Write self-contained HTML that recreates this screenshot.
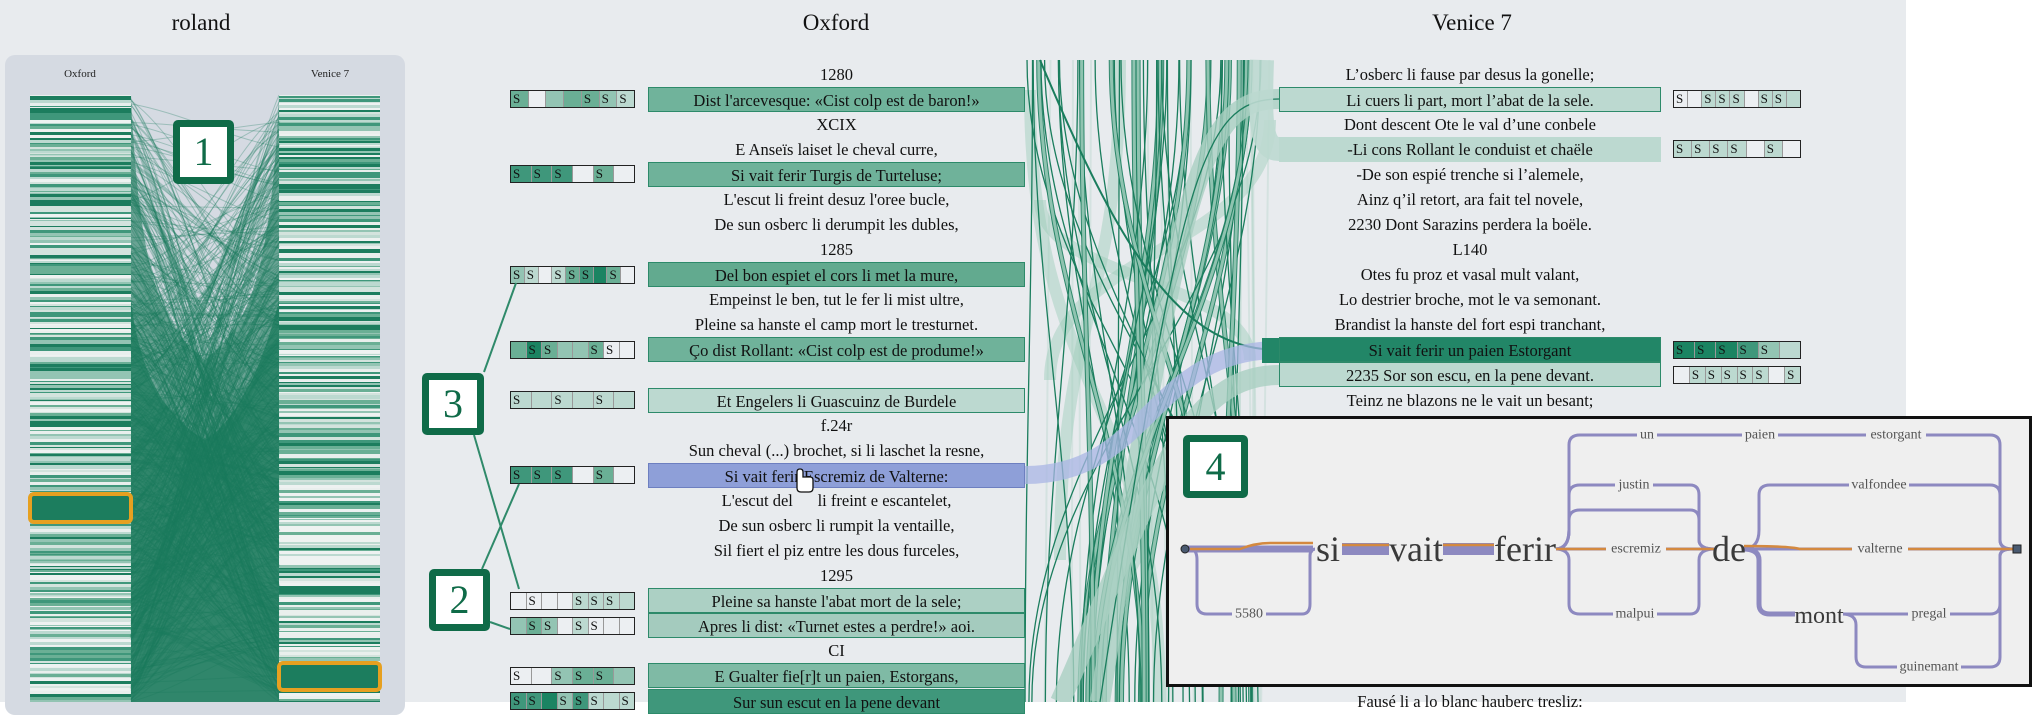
<!DOCTYPE html>
<html><head><meta charset="utf-8">
<style>
body{margin:0;width:2034px;height:702px;overflow:hidden;background:#fff;font-family:"Liberation Serif",serif;position:relative}
#bg{position:absolute;left:0;top:0;width:1906px;height:702px;background:#e8ebee}
.t{position:absolute;font-size:23px;color:#111;transform:translateX(-50%);top:10px}
#panel{position:absolute;left:5px;top:55px;width:400px;height:660px;background:#d5dae2;border-radius:10px}
.pl{position:absolute;font-size:11px;top:68px;transform:translateX(-50%);color:#222}
.r{position:absolute;height:25px;line-height:25px;font-size:16.5px;text-align:center;top:calc(61.5px + var(--i) * 25.08px);color:#111;white-space:nowrap}
.ox{left:648px;width:377px}
.ve{left:1279px;width:382px}
.h{box-sizing:border-box;border:1px solid #2d8a6a}
.sb{position:absolute;height:18px;box-sizing:border-box;border:1.5px solid #222;display:flex;top:calc(65px + var(--i) * 25.08px)}
.sb span{flex:1;border-right:1px solid #999;font-size:13px;line-height:15px;padding-left:2px;color:#111}
.sb span:last-child{border-right:none}
.so{left:510px;width:125px}.sv{left:1673px;width:128px}
.badge{position:absolute;box-sizing:border-box;border:7px solid #0f6b48;border-radius:5px;background:#fff;color:#0f6b48;font-size:40px;text-align:center;font-family:"Liberation Serif",serif}
svg{position:absolute;left:0;top:0}
.g text{font-family:"Liberation Serif",serif;fill:#555;text-anchor:middle;dominant-baseline:central}
.g text.big{fill:#3a3a3a}
</style></head><body>
<div id="bg"></div>
<div class="t" style="left:201px">roland</div>
<div class="t" style="left:836px">Oxford</div>
<div class="t" style="left:1472px">Venice 7</div>
<div id="panel"></div>
<div class="pl" style="left:80px">Oxford</div>
<div class="pl" style="left:330px">Venice 7</div>
<svg id="left" width="410" height="702"></svg>
<svg id="mid" width="2034" height="702"></svg>

<div class="r ox" style="--i:0">1280</div>
<div class="r ox h" style="--i:1;background:#70b39b">Dist l'arcevesque: «Cist colp est de baron!»</div>
<div class="r ox" style="--i:2">XCIX</div>
<div class="r ox" style="--i:3">E Anseïs laiset le cheval curre,</div>
<div class="r ox h" style="--i:4;background:#6fb29a">Si vait ferir Turgis de Turteluse;</div>
<div class="r ox" style="--i:5">L'escut li freint desuz l'oree bucle,</div>
<div class="r ox" style="--i:6">De sun osberc li derumpit les dubles,</div>
<div class="r ox" style="--i:7">1285</div>
<div class="r ox h" style="--i:8;background:#62aa8f">Del bon espiet el cors li met la mure,</div>
<div class="r ox" style="--i:9">Empeinst le ben, tut le fer li mist ultre,</div>
<div class="r ox" style="--i:10">Pleine sa hanste el camp mort le tresturnet.</div>
<div class="r ox h" style="--i:11;background:#6fb29a">Ço dist Rollant: «Cist colp est de produme!»</div>
<div class="r ox h" style="--i:13;background:#bcd9d0">Et Engelers li Guascuinz de Burdele</div>
<div class="r ox" style="--i:14">f.24r</div>
<div class="r ox" style="--i:15">Sun cheval (...) brochet, si li laschet la resne,</div>
<div class="r ox h" style="--i:16;background:#8e9fd8;border-color:#6d7fc0">Si vait ferir Escremiz de Valterne:</div>
<div class="r ox" style="--i:17">L'escut del &nbsp;&nbsp;&nbsp;&nbsp; li freint e escantelet,</div>
<div class="r ox" style="--i:18">De sun osberc li rumpit la ventaille,</div>
<div class="r ox" style="--i:19">Sil fiert el piz entre les dous furceles,</div>
<div class="r ox" style="--i:20">1295</div>
<div class="r ox h" style="--i:21;background:#acd0c4">Pleine sa hanste l'abat mort de la sele;</div>
<div class="r ox h" style="--i:22;background:#a4cbbe">Apres li dist: «Turnet estes a perdre!» aoi.</div>
<div class="r ox" style="--i:23">CI</div>
<div class="r ox h" style="--i:24;background:#7fbaa5">E Gualter fie[r]t un paien, Estorgans,</div>
<div class="r ox h" style="--i:25;background:#3f977b">Sur sun escut en la pene devant</div>
<svg width="2034" height="702"><path d="M797,472 v16 q0,4 4,4 h8 q4,0 4,-4 v-8 q0,-3 -3,-3 h-7 v-5 q0,-3 -3,-3 q-3,0 -3,3z" fill="#fff" stroke="#111" stroke-width="1.3"/></svg>

<div class="r ve" style="--i:0">L’osberc li fause par desus la gonelle;</div>
<div class="r ve h" style="--i:1;background:#bcd9d0">Li cuers li part, mort l’abat de la sele.</div>
<div class="r ve" style="--i:2">Dont descent Ote le val d’une conbele</div>
<div class="r ve" style="--i:3;background:#bcd9d0">-Li cons Rollant le conduist et chaële</div>
<div class="r ve" style="--i:4">-De son espié trenche si l’alemele,</div>
<div class="r ve" style="--i:5">Ainz q’il retort, ara fait tel novele,</div>
<div class="r ve" style="--i:6">2230 Dont Sarazins perdera la boële.</div>
<div class="r ve" style="--i:7">L140</div>
<div class="r ve" style="--i:8">Otes fu proz et vasal mult valant,</div>
<div class="r ve" style="--i:9">Lo destrier broche, mot le va semonant.</div>
<div class="r ve" style="--i:10">Brandist la hanste del fort espi tranchant,</div>
<div class="r ve h" style="--i:11;background:#228667">Si vait ferir un paien Estorgant</div>
<div class="r ve h" style="--i:12;background:#bcd9d0">2235 Sor son escu, en la pene devant.</div>
<div class="r ve" style="--i:13">Teinz ne blazons ne le vait un besant;</div>
<div class="r ve" style="--i:25">Fausé li a lo blanc hauberc tresliz:</div>

<div id="sboxes"></div>

<div class="badge" style="left:173px;top:120px;width:61px;height:64px;line-height:50px">1</div>
<div class="badge" style="left:422px;top:373px;width:62px;height:62px;line-height:48px">3</div>
<div class="badge" style="left:429px;top:569px;width:61px;height:62px;line-height:48px">2</div>

<div style="position:absolute;left:1166px;top:416px;width:866px;height:271px;box-sizing:border-box;border:3px solid #111;background:#efefef"></div>
<div class="badge" style="left:1183px;top:435px;width:65px;height:63px;line-height:49px">4</div>
<svg width="2034" height="702" class="g">
<g fill="none" stroke="#8d89c0" stroke-width="3" stroke-linejoin="round">
<path d="M1185,549 H1313" stroke-width="7"/>
<path d="M1190,549 Q1197,549 1197,560 V604 Q1197,614 1207,614 H1302 Q1310,614 1310,604 V556 Q1310,549 1316,549"/>
<path d="M1340,549 H1391 M1441,549 H1494" stroke-width="12"/>
<path d="M1555,549 Q1569,549 1569,530 V445 Q1569,435 1580,435 H1990 Q2000,435 2000,445 V540 Q2000,549 2013,549"/>
<path d="M1555,549 Q1569,549 1569,530 V495 Q1569,485 1580,485 H1690 Q1699,485 1699,495 V540 Q1699,549 1715,549"/>
<path d="M1555,549 Q1569,549 1569,530 V520 Q1569,510 1580,510 H1690 Q1699,510 1699,520 V540 Q1699,549 1715,549"/>
<path d="M1555,549 H1715"/>
<path d="M1555,549 Q1569,549 1569,560 V604 Q1569,614 1580,614 H1690 Q1699,614 1699,604 V560 Q1699,549 1715,549"/>
<path d="M1743,549 Q1759,549 1759,530 V495 Q1759,485 1770,485 H1990 Q2000,485 2000,495 V540 Q2000,549 2013,549"/>
<path d="M1743,549 H2013"/>
<path d="M1743,549 Q1759,549 1759,560 V604 Q1759,614 1770,614 H1795" stroke-width="5"/>
<path d="M1842,614 H1990 Q2000,614 2000,604 V556 Q2000,549 2013,549"/>
<path d="M1842,614 Q1856,614 1856,625 V657 Q1856,667 1866,667 H1990 Q2000,667 2000,657 V556 Q2000,549 2013,549"/>
</g>
<g fill="none" stroke="#d4893f" stroke-width="2.5">
<path d="M1190,549 H1240 Q1255,543 1270,543 H1313 M1340,545 H1391 M1441,545 H1494 M1555,549 H1715 M1743,546 Q1790,546 1800,549 H2013"/>
</g>
<circle cx="1185" cy="549" r="4" fill="#4a5a70" stroke="#222"/>
<rect x="2013" y="545" width="8" height="8" fill="#4a5a70" stroke="#222"/>
<g font-size="14">
<rect x="1232" y="605" width="34" height="18" fill="#efefef"/><text x="1249" y="614">5580</text>
<rect x="1637" y="426" width="20" height="18" fill="#efefef"/><text x="1647" y="435">un</text>
<rect x="1742" y="426" width="36" height="18" fill="#efefef"/><text x="1760" y="435">paien</text>
<rect x="1866" y="426" width="60" height="18" fill="#efefef"/><text x="1896" y="435">estorgant</text>
<rect x="1615" y="476" width="38" height="18" fill="#efefef"/><text x="1634" y="485">justin</text>
<rect x="1849" y="476" width="60" height="18" fill="#efefef"/><text x="1879" y="485">valfondee</text>
<rect x="1606" y="540" width="60" height="18" fill="#efefef"/><text x="1636" y="549">escremiz</text>
<rect x="1852" y="540" width="56" height="18" fill="#efefef"/><text x="1880" y="549">valterne</text>
<rect x="1613" y="605" width="44" height="18" fill="#efefef"/><text x="1635" y="614">malpui</text>
<rect x="1908" y="605" width="42" height="18" fill="#efefef"/><text x="1929" y="614">pregal</text>
<rect x="1897" y="658" width="64" height="18" fill="#efefef"/><text x="1929" y="667">guinemant</text>
</g>
<rect x="1315" y="530" width="27" height="38" fill="#efefef"/><text class="big" x="1328" y="549" font-size="36">si</text>
<rect x="1389" y="530" width="54" height="38" fill="#efefef"/><text class="big" x="1416" y="549" font-size="36">vait</text>
<rect x="1494" y="530" width="62" height="38" fill="#efefef"/><text class="big" x="1525" y="549" font-size="36">ferir</text>
<rect x="1714" y="530" width="30" height="38" fill="#efefef"/><text class="big" x="1729" y="549" font-size="36">de</text>
<rect x="1795" y="602" width="48" height="26" fill="#efefef"/><text class="big" x="1819" y="616" font-size="24">mont</text>
</svg>

<svg width="2034" height="702" style="pointer-events:none">
<g stroke="#2f8a6a" stroke-width="2" fill="none">
<path d="M484,372 L516,283"/><path d="M474,435 L519,589"/>
<path d="M482,569 L519,484"/><path d="M490,622 L510,629"/>
</g>
<g fill="none" stroke="#e6a020" stroke-width="4">
<rect x="30" y="494" width="101" height="28" rx="4"/>
<rect x="279" y="663" width="101" height="27" rx="4"/>
</g>
</svg>

<script>
var s=12345;function R(){s=(s*16807)%2147483647;return s/2147483647;}
var NS="http://www.w3.org/2000/svg";
function el(p,t,a){var e=document.createElementNS(NS,t);for(var k in a)e.setAttribute(k,a[k]);p.appendChild(e);return e;}
var L=document.getElementById('left');
var pal=['#1c7d5e','#3f977b','#6aaf95','#93c4b3','#bcd9d0','#d3e3dd','#e9efed','#eef2f1'];
[30,279].forEach(function(x){
 var y=95;
 el(L,'rect',{x:x,y:95,width:101,height:607,fill:'#eef2f1'});
 while(y<702){var h=1+Math.floor(R()*3);var c=pal[Math.floor(Math.pow(R(),1.1)*pal.length)];
  el(L,'rect',{x:x,y:y,width:101,height:h,fill:c});y+=h;}
});
el(L,'rect',{x:30,y:495,width:101,height:26,fill:'#1c7d5e'});
el(L,'rect',{x:279,y:664,width:101,height:25,fill:'#1c7d5e'});
el(L,'rect',{x:131,y:95,width:148,height:607,fill:'#d5dae2'});
el(L,'path',{d:'M131,95 L131,702 L279,702 L279,95 C270,300 240,330 205,360 C170,330 140,300 131,95z',fill:'#237f61',opacity:0.6});
el(L,'path',{d:'M131,300 L131,702 L279,702 L279,300 C250,420 205,440 205,440 C170,420 140,380 131,300z',fill:'#1e7c5d',opacity:0.75});
for(var i=0;i<700;i++){
 var y1=95+Math.pow(R(),0.8)*607,y2=95+Math.pow(R(),0.8)*607;
 el(L,'path',{d:'M131,'+y1+' C180,'+(y1+ (y2-y1)*0.2)+' 230,'+(y2-(y2-y1)*0.2)+' 279,'+y2,fill:'none',stroke:'#1a7a5c','stroke-width':R()<0.05?3:1,opacity:0.3});
}
var M=document.getElementById('mid');
for(var i=0;i<15;i++){var x=1025+R()*250;el(M,'line',{x1:x,y1:60,x2:x+(R()-0.5)*20,y2:702,stroke:'#9ccbb9','stroke-width':2,opacity:0.25});}
var bands=[[1030,90,1160,702],[1040,200,1250,360],[1120,60,1060,560],[1180,400,1100,702],[1050,380,1270,120]];
bands.forEach(function(b){el(M,'path',{d:'M'+b[0]+','+b[1]+' C'+b[0]+','+((b[1]+b[3])/2)+' '+b[2]+','+((b[1]+b[3])/2)+' '+b[2]+','+b[3],fill:'none',stroke:'#9ccbb9','stroke-width':12,opacity:0.45});});
for(var i=0;i<50;i++){
 var x1=1025+R()*240,x2=1025+R()*240,w=R()<0.3?5:2;
 var d='M'+x1+',60 C'+x1+',300 '+x2+',450 '+x2+',702';
 if(w>2){el(M,'path',{d:d,fill:'none',stroke:'#1a7d5d','stroke-width':w,opacity:0.9});el(M,'path',{d:d,fill:'none',stroke:'#8fc3b0','stroke-width':w-2});}
 else el(M,'path',{d:d,fill:'none',stroke:'#1a7d5d','stroke-width':1.3});
}
function band(y1,y2,c,w,o){el(M,'path',{d:'M1025,'+y1+' C1150,'+y1+' 1150,'+y2+' 1279,'+y2,fill:'none',stroke:c,'stroke-width':w,opacity:o});}
el(M,'path',{d:'M1279,99 C1200,99 1180,180 1100,702',fill:'none',stroke:'#a9d0c2','stroke-width':20,opacity:0.8});
el(M,'path',{d:'M1279,99 C1200,99 1180,180 1100,702',fill:'none',stroke:'#1a7d5d','stroke-width':1.3});
el(M,'path',{d:'M1279,149 C1260,149 1260,120 1262,60',fill:'none',stroke:'#bcd9d0','stroke-width':24,opacity:0.9});
el(M,'path',{d:'M1279,350 C1180,350 1120,250 1040,60',fill:'none',stroke:'#1a7d5d','stroke-width':2});
el(M,'path',{d:'M1279,375 C1180,375 1150,500 1060,702',fill:'none',stroke:'#a9d0c2','stroke-width':20,opacity:0.8});
band(475,350,'#aab6e4',18,0.75);
el(M,'rect',{x:1262,y:338,width:20,height:25,fill:'#228667'});
var col={w:'#eceff2',l:'#bcd9d0',m:'#93c4b3',n:'#6aaf95',d:'#3f977b',k:'#1b8462'};
var sb=[['so',1,'ns w m n ns ms ls'],['so',4,'ds ds ds w ns w'],['so',8,'ms ls w ls ns ds k ns w'],['so',11,'n ks ns m m ns ws w'],['so',13,'ls l ls l ls l'],['so',16,'ds ds ds w ns w'],['so',21,'w ws w w ls ls ls l'],['so',22,'m ns ms w ls ws w w'],['so',24,'ws w ms ns ns m'],['so',25,'ds ds k ms ds ls l ls'],
['sv',1,'ws w ls ls ls w ls ls l'],['sv',3,'ls ls ls ls w ls w'],['sv',11,'ks ks ks ds ms l'],['sv',12,'w ls ls ls ls ls w ls']];
var H='';sb.forEach(function(b){H+='<div class="sb '+b[0]+'" style="--i:'+b[1]+'">';b[2].split(' ').forEach(function(t){H+='<span style="background:'+col[t[0]]+'">'+(t[1]?'S':'')+'</span>';});H+='</div>';});
document.getElementById('sboxes').innerHTML=H;
</script>
</body></html>
